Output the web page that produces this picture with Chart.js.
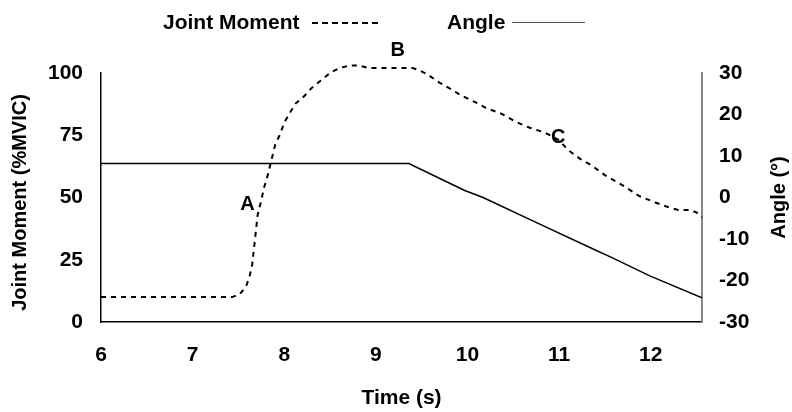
<!DOCTYPE html>
<html>
<head>
<meta charset="utf-8">
<script src="https://cdn.jsdelivr.net/npm/chart.js@4/dist/chart.umd.min.js"></script>
<style>
  body { margin: 0; background: #fff; }
  #wrap { position: relative; width: 792px; height: 412px; }
  #legend { position: absolute; top: 10px; left: 0; width: 792px; height: 26px;
            font: bold 21px "Liberation Sans", Arial, sans-serif; color: #000; }
  #legend span { position: absolute; top: 0; line-height: 24px; }
  #legend i { position: absolute; top: 12px; display: block; height: 0; }
</style>
</head>
<body>
<div id="wrap">
  <canvas id="myChart" width="792" height="412"></canvas>
  <div id="legend">
    <span style="left:163px">Joint Moment</span>
    <i style="left:312px;width:66px;border-top:2px dashed #000"></i>
    <span style="left:447px">Angle</span>
    <i style="left:512px;width:73px;border-top:1.5px solid #555"></i>
  </div>
</div>
<script>
// joint moment (%MVIC) vs time (s)
var momentTime = [6.0, 7.43, 7.51, 7.58, 7.62, 7.65, 7.68, 7.71, 7.75, 7.78, 7.82, 7.86, 7.9, 7.95, 8.0, 8.06, 8.13, 8.2, 8.3, 8.4, 8.5, 8.6, 8.72, 8.82, 8.92, 9.05, 9.2, 9.4, 9.48, 9.56, 9.7, 9.82, 9.93, 10.1, 10.2, 10.38, 10.52, 10.68, 10.85, 11.0, 11.1, 11.23, 11.35, 11.5, 11.69, 11.88, 12.05, 12.2, 12.3, 12.43, 12.5, 12.56];
var momentValues = [10, 10, 11, 14, 18, 23, 33, 43, 49, 54, 59, 65, 71, 75, 80, 84, 88, 90, 94, 97, 100, 102, 103, 103, 102, 102, 102, 102, 101, 99.5, 96, 93.5, 91, 88, 86, 83.5, 80.5, 78, 76, 73, 69, 65.5, 63, 59, 55, 50.5, 48, 46, 45, 45, 44, 42];

// angle (deg) vs time (s)
var angleTime = [6.0, 9.36, 9.97, 10.17, 10.76, 11.36, 11.56, 11.99, 12.56];
var angleValues = [8.2, 8.2, 1.7, 0, -6.1, -12.3, -14.3, -18.9, -24.2];

// tick labels
var timeTicks = [6, 7, 8, 9, 10, 11, 12];
var momentTicks = [0, 25, 50, 75, 100];
var angleTicks = [-30, -20, -10, 0, 10, 20, 30];

// point labels
var markLabels = ['A', 'B', 'C'];
var markTime = [7.6, 9.24, 10.99];
var markValues = [47, 109, 74];

var FONT = '"Liberation Sans", Arial, sans-serif';

function toPoints(xs, ys) {
    var pts = [];
    for (var i = 0; i < xs.length; i++) {
        pts.push({x: xs[i], y: ys[i]});
    }
    return pts;
}

// tick labels, letters A B C and the axis titles
var extras = {
    id: 'extras',
    afterDraw: function (chart) {
        var ctx = chart.ctx;
        var xs = chart.scales.x, ys = chart.scales.y, yr = chart.scales.y1;
        var area = chart.chartArea;
        var mid = (area.top + area.bottom) / 2;
        var i;
        ctx.save();
        ctx.fillStyle = '#000';
        ctx.textBaseline = 'middle';
        ctx.font = 'bold 21px ' + FONT;

        ctx.textAlign = 'center';
        for (i = 0; i < timeTicks.length; i++) {
            ctx.fillText(String(timeTicks[i]), xs.getPixelForValue(timeTicks[i]), area.bottom + 33);
        }
        ctx.fillText('Time (s)', (area.left + area.right) / 2, xs.bottom - 14);
        ctx.textAlign = 'right';
        for (i = 0; i < momentTicks.length; i++) {
            ctx.fillText(String(momentTicks[i]), area.left - 18, ys.getPixelForValue(momentTicks[i]));
        }
        ctx.textAlign = 'left';
        for (i = 0; i < angleTicks.length; i++) {
            ctx.fillText(String(angleTicks[i]), area.right + 17, yr.getPixelForValue(angleTicks[i]));
        }

        ctx.font = 'bold 20px ' + FONT;
        ctx.textAlign = 'center';
        for (i = 0; i < markLabels.length; i++) {
            ctx.fillText(markLabels[i], xs.getPixelForValue(markTime[i]), ys.getPixelForValue(markValues[i]));
        }
        ctx.save();
        ctx.translate(ys.left + 20, mid + 5);
        ctx.rotate(-Math.PI / 2);
        ctx.fillText('Joint Moment (%MVIC)', 0, 0);
        ctx.restore();
        ctx.translate(yr.right - 13, mid);
        ctx.rotate(-Math.PI / 2);
        ctx.fillText('Angle (°)', 0, 0);
        ctx.restore();
    }
};

var myChart = new Chart(document.getElementById('myChart'), {
    type: 'line',
    data: {
        datasets: [
            {
                label: 'Joint Moment',
                data: toPoints(momentTime, momentValues),
                yAxisID: 'y',
                borderColor: '#000',
                borderWidth: 2,
                borderDash: [5, 5],
                pointRadius: 0,
                tension: 0,
                clip: false
            },
            {
                label: 'Angle',
                data: toPoints(angleTime, angleValues),
                yAxisID: 'y1',
                borderColor: '#000',
                borderWidth: 1.5,
                pointRadius: 0,
                tension: 0
            }
        ]
    },
    options: {
        responsive: false,
        animation: false,
        layout: {padding: {top: 73, left: 0, right: 0, bottom: 0}},
        plugins: {legend: {display: false}, tooltip: {enabled: false}},
        scales: {
            x: {
                type: 'linear',
                min: 6,
                max: 12.56,
                afterFit: function (s) { s.height = 90; },
                ticks: {display: false},
                grid: {drawOnChartArea: false, drawTicks: false},
                border: {color: '#000', width: 1.5}
            },
            y: {
                position: 'left',
                min: 0,
                max: 100,
                afterFit: function (s) { s.width = 101; },
                ticks: {display: false},
                grid: {drawOnChartArea: false, drawTicks: false},
                border: {color: '#000', width: 1.5}
            },
            y1: {
                position: 'right',
                min: -30,
                max: 30,
                afterFit: function (s) { s.width = 90; },
                ticks: {display: false},
                grid: {drawOnChartArea: false, drawTicks: false},
                border: {color: '#888', width: 2}
            }
        }
    },
    plugins: [extras]
});
</script>
</body>
</html>
